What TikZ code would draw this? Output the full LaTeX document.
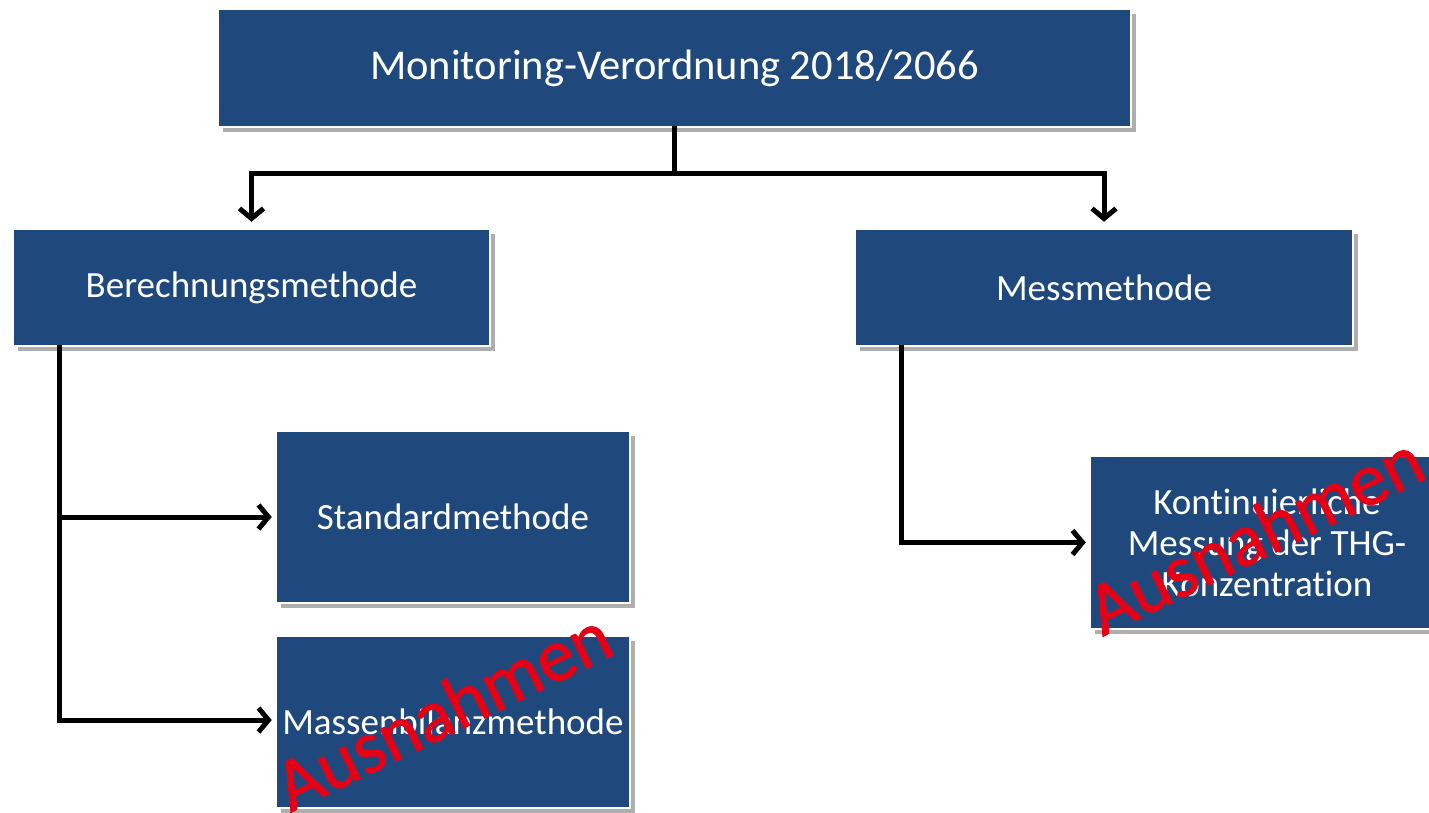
\documentclass[tikz,border=0pt]{standalone}
\usepackage{fontspec}
\setmainfont{Carlito}[Ligatures=NoCommon]
\newfontfamily\stampfont{Carlito}[FakeBold=1.2]
\usetikzlibrary{arrows.meta,shadows,calc}
\definecolor{boxblue}{RGB}{31,73,125}
\definecolor{stampred}{RGB}{230,0,22}
\tikzset{
  box/.style={rectangle, fill=boxblue, draw=white, line width=2.5pt, inner sep=4pt,
    text=white, align=center, font=\fontsize{37}{41}\selectfont,
    drop shadow={shadow xshift=5pt, shadow yshift=-5pt, opacity=0.45, fill=black!70}},
  conn/.style={draw=black, line width=5pt, line cap=rect,
    -{Straight Barb[length=10pt,width=24pt,line width=5pt]}},
  plain/.style={draw=black, line width=5pt, line cap=rect},
  stamp/.style={text=stampred, font=\stampfont\fontsize{75}{80}\selectfont, rotate=26, anchor=base, inner sep=0pt}
}
\begin{document}
\begin{tikzpicture}[x=1pt,y=-1pt]
\useasboundingbox (0,0) rectangle (1429,813);
\node[box, minimum width=913pt, minimum height=118pt, font=\fontsize{42.5}{48}\selectfont] (top) at (674.5,68) {Monitoring-Verordnung 2018/2066};
\node[box, minimum width=477pt, minimum height=117pt] (ber) at (251.5,287.5) {Berechnungsmethode};
\node[box, minimum width=498pt, minimum height=117pt] (mess) at (1104,287.5) {Messmethode};
\node[box, minimum width=354pt, minimum height=172pt] (std) at (453,517) {Standardmethode};
\node[box, minimum width=354pt, minimum height=172pt] (mass) at (453,722) {Massenbilanzmethode};
\node[box, minimum width=354pt, minimum height=173pt] (kont) at (1267,542.5) {Kontinuierliche\\Messung der THG-\\Konzentration};

\coordinate (split) at ($(top.south)+(0,45)$);
\coordinate (b1) at ($(ber.south west)+(48,0)$);
\coordinate (m1) at ($(mess.south west)+(48,0)$);

\draw[plain] (top.south) -- (split);
\draw[conn] (split) -| ($(ber.north)+(0,-6)$);
\draw[conn] (split) -| ($(mess.north)+(0,-6)$);
\draw[conn] (b1) |- ($(std.west)+(-3,0)$);
\draw[conn] (b1) |- ($(mass.west)+(-3,-2)$);
\draw[conn] (m1) |- ($(kont.west)+(-3,0)$);

\node[stamp] (aus1) at (454,733) {Ausnahmen};
\node[stamp] (aus2) at (1266,557) {Ausnahmen};
\end{tikzpicture}
\end{document}
